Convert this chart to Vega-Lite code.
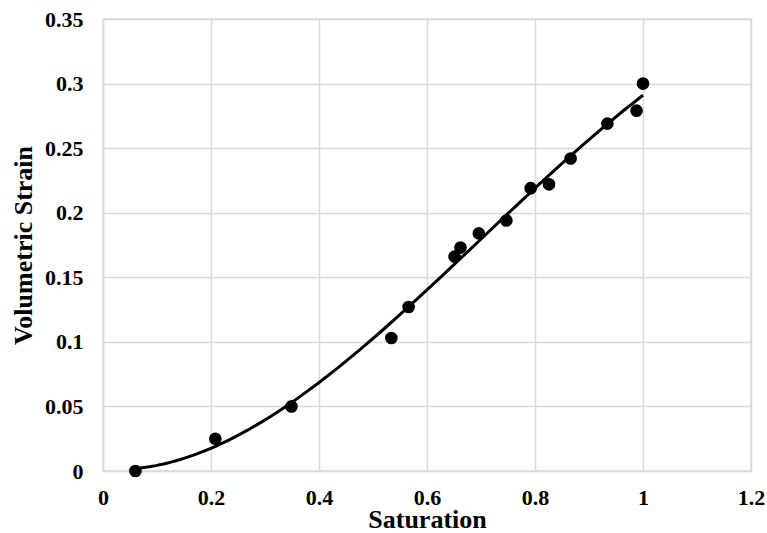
{
  "$schema": "https://vega.github.io/schema/vega-lite/v6.json",
  "width": 648,
  "height": 452,
  "autosize": {"type": "none"},
  "padding": {"left": 103, "top": 19, "right": 16, "bottom": 62},
  "background": "white",
  "data": {"values": [
    {"s": 0.060, "v": 0.000},
    {"s": 0.208, "v": 0.025},
    {"s": 0.349, "v": 0.050},
    {"s": 0.534, "v": 0.103},
    {"s": 0.566, "v": 0.127},
    {"s": 0.651, "v": 0.166},
    {"s": 0.662, "v": 0.173},
    {"s": 0.696, "v": 0.184},
    {"s": 0.747, "v": 0.194},
    {"s": 0.792, "v": 0.219},
    {"s": 0.826, "v": 0.222},
    {"s": 0.866, "v": 0.242},
    {"s": 0.934, "v": 0.269},
    {"s": 0.988, "v": 0.279},
    {"s": 1.000, "v": 0.300}
  ]},
  "config": {
    "view": {"stroke": "#d9d9d9", "strokeWidth": 1.5},
    "axis": {
      "labelFont": "Liberation Serif",
      "titleFont": "Liberation Serif",
      "labelFontWeight": "bold",
      "titleFontWeight": "bold",
      "labelColor": "black",
      "titleColor": "black",
      "labelFontSize": 22,
      "titleFontSize": 26,
      "gridColor": "#d9d9d9",
      "gridWidth": 1.5,
      "domainColor": "#d9d9d9",
      "domainWidth": 1.5,
      "ticks": false,
      "labelExpr": "format(datum.value, '~g')"
    }
  },
  "layer": [
    {
      "transform": [{"regression": "v", "on": "s", "method": "poly", "order": 3}],
      "mark": {"type": "line", "color": "black", "strokeWidth": 3},
      "encoding": {
        "x": {"field": "s", "type": "quantitative"},
        "y": {"field": "v", "type": "quantitative"}
      }
    },
    {
      "mark": {"type": "circle", "color": "black", "opacity": 1, "size": 160},
      "encoding": {
        "x": {"field": "s", "type": "quantitative", "title": "Saturation",
          "scale": {"domain": [0, 1.2], "nice": false, "zero": false},
          "axis": {"values": [0, 0.2, 0.4, 0.6, 0.8, 1, 1.2], "labelPadding": 16, "titleBaseline": "alphabetic", "titleY": 56, "labelFlush": false}},
        "y": {"field": "v", "type": "quantitative", "title": "Volumetric Strain",
          "scale": {"domain": [0, 0.35], "nice": false},
          "axis": {"values": [0, 0.05, 0.1, 0.15, 0.2, 0.25, 0.3, 0.35], "labelPadding": 20, "titleX": -80, "titleY": 226, "titleBaseline": "middle", "labelFlush": false}}
      }
    }
  ]
}
